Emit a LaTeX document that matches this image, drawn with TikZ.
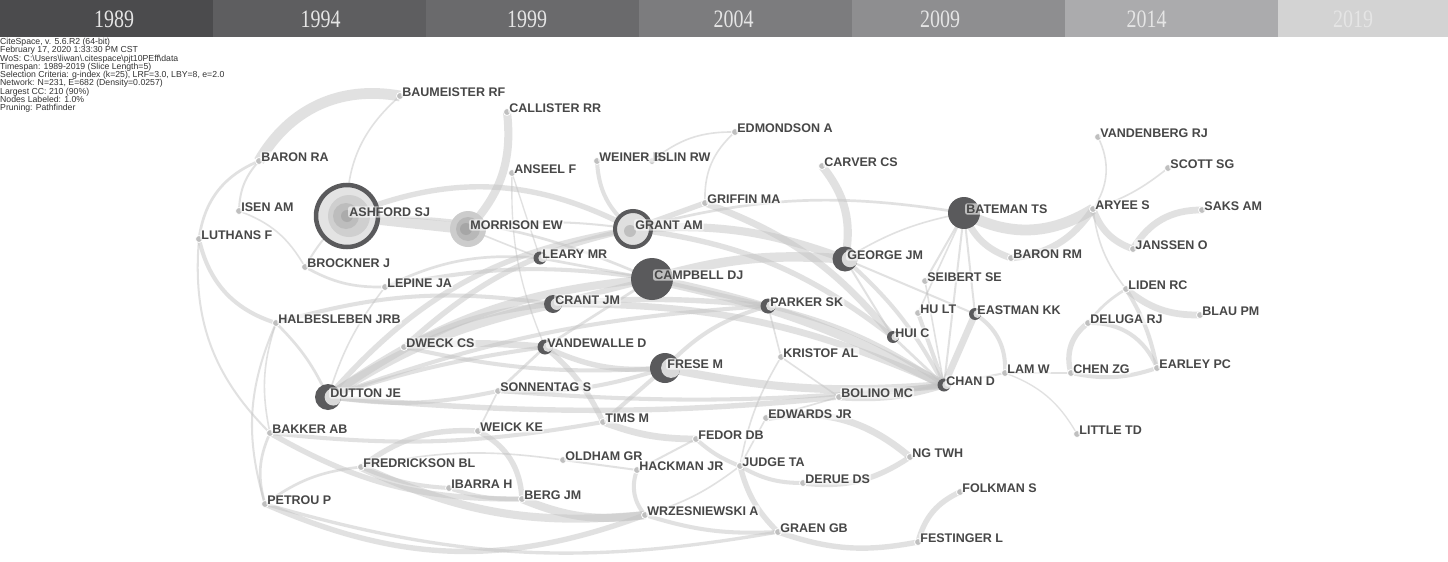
\documentclass[tikz,border=0pt]{standalone}
\usepackage{fontspec}
\usepackage{graphicx}
\setmainfont{Liberation Serif}
\setsansfont{Liberation Sans}
\usetikzlibrary{positioning}
\pgfdeclarelayer{background}
\pgfsetlayers{background,main}
\definecolor{yr1}{HTML}{4B4B4D}
\definecolor{yr2}{HTML}{5E5E60}
\definecolor{yr3}{HTML}{6A6A6C}
\definecolor{yr4}{HTML}{7C7C7E}
\definecolor{yr5}{HTML}{8E8E90}
\definecolor{yr6}{HTML}{ABABAD}
\definecolor{yr7}{HTML}{D3D3D3}
\definecolor{hubc}{HTML}{5A5A5C}
\tikzset{
  dot/.style={circle, fill=gray!50, draw=white, line width=.8pt, inner sep=0pt, minimum size=7pt},
  hub/.style={circle, fill=hubc, inner sep=0pt, minimum size=#1pt,
    path picture={\fill[gray!30] ([xshift={.2*#1*1pt}]path picture bounding box.center) circle ({.33*#1*1pt});}},
  au/.style={anchor=west, font=\sffamily\bfseries\fontsize{12.5}{13}\selectfont, text=black!72,
    fill=white, fill opacity=.6, text opacity=1, inner sep=1.2pt, rounded corners=2pt},
  tie/.style={draw=black!24, line width={1.35*#1}, opacity=.48},
  tie/.default=1.2,
  slab/.style={anchor=north west, minimum width=213pt, minimum height=37pt, inner sep=0pt},
  yrtxt/.style={font=\fontsize{25}{25}\selectfont, text=white!90!black}
}

\begin{document}
\begin{tikzpicture}[x=1pt, y=-1pt]
\useasboundingbox (0,0) rectangle (1448,562);
\clip (0,0) rectangle (1448,562);

% time zones
\foreach \yr [count=\i] in {1989,1994,...,2019} {
  \node[slab, fill=yr\i] (slab\i) at ({213*(\i-1)},0) {};
  \node[yrtxt] (yt\i) at ({114+206.5*(\i-1)},19) {\scalebox{.8}[1]{\yr}};
}
\node[anchor=north west, align=left, inner sep=0pt, text=black!80,
  font=\sffamily\fontsize{8.7}{8.25}\selectfont] (info) at (0,38)
  {CiteSpace, v. 5.6.R2 (64-bit)\\
   February 17, 2020 1:33:30 PM CST\\
   WoS: C:\textbackslash Users\textbackslash liwan\textbackslash .citespace\textbackslash pjt10PEff\textbackslash data\\
   Timespan: 1989-2019 (Slice Length=5)\\
   Selection Criteria: g-index (k=25), LRF=3.0, LBY=8, e=2.0\\
   Network: N=231, E=682 (Density=0.0257)\\
   Largest CC: 210 (90\%)\\
   Nodes Labeled: 1.0\%\\
   Pruning: Pathfinder};

% big nodes
\node[circle, draw=hubc, line width=4.5pt, fill=gray!22, minimum size=62pt, inner sep=0pt,
  path picture={
    \fill[gray!38] ([xshift=2pt]path picture bounding box.center) circle (21pt);
    \fill[gray!52] ([xshift=-1pt]path picture bounding box.center) circle (13pt);
    \fill[gray!66] (path picture bounding box.center) circle (6pt);}] (ash) at (347,216) {};
\node[circle, fill=gray!40, minimum size=36pt, inner sep=0pt,
  path picture={
    \fill[gray!56] (path picture bounding box.center) circle (12pt);
    \fill[gray!70] ([xshift=-2pt]path picture bounding box.center) circle (6pt);}] (mor) at (468,229) {};
\node[circle, draw=hubc, line width=4pt, fill=gray!25, minimum size=36pt, inner sep=0pt,
  path picture={\fill[gray!50] ([xshift=-3pt,yshift=-2pt]path picture bounding box.center) circle (6pt);}] (gra) at (633,229) {};
\node[circle, fill=hubc, minimum size=42pt, inner sep=0pt] (cam) at (652,279) {};
\node[circle, fill=hubc, minimum size=32pt, inner sep=0pt] (bat) at (964,213) {};
\foreach \nm/\x/\y/\s in {geo/845/259/25, par/768/306/15, fre/665/368/30, dut/328/397/26,
  cra/553/304/18, vdw/545/347/15, lea/540/258/13, hui/893/337/12, eas/975/314/12, cha/944/385/13}
  \node[hub=\s] (\nm) at (\x,\y) {};

% small nodes
\foreach \nm/\x/\y in {bau/400/96, cal/507/112, bra/259/161, ise/239/211, lut/199/239,
  bro/305/267, lep/385/287, hal/276/323, ans/512/173, wei/597/161, isl/652/161,
  edm/735/132, gri/705/203, car/822/166, sei/925/281, brm/1011/258, hul/918/313,
  ary/1093/209, van/1098/137, sco/1168/168, sak/1202/210, jan/1133/249, lid/1126/289,
  bla/1200/315, del/1088/323, ear/1157/368, che/1071/373, lam/1005/373, lit/1077/434,
  dwe/404/347, kri/781/357, bol/839/397, son/498/391, bak/270/433, wek/478/431,
  tim/603/422, edw/766/418, fed/696/439, frd/361/467, old/563/460, hac/637/470,
  jud/740/466, ngt/910/457, der/803/483, iba/449/488, ber/522/499, pet/265/504,
  fol/960/492, wrz/645/515, grb/778/532, fes/918/542}
  \node[dot] (\nm) at (\x,\y) {};

% labels
\foreach \nm/\txt in {ash/ASHFORD SJ, mor/MORRISON EW, gra/GRANT AM, cam/CAMPBELL DJ,
  bat/BATEMAN TS, geo/GEORGE JM, par/PARKER SK, fre/FRESE M, dut/DUTTON JE, cra/CRANT JM,
  vdw/VANDEWALLE D, lea/LEARY MR, hui/HUI C, eas/EASTMAN KK, cha/CHAN D,
  bau/BAUMEISTER RF, cal/CALLISTER RR, bra/BARON RA, ise/ISEN AM, lut/LUTHANS F,
  bro/BROCKNER J, lep/LEPINE JA, hal/HALBESLEBEN JRB, ans/ANSEEL F, wei/WEINER B,
  isl/ISLIN RW, edm/EDMONDSON A, gri/GRIFFIN MA, car/CARVER CS, sei/SEIBERT SE,
  brm/BARON RM, hul/HU LT, ary/ARYEE S, van/VANDENBERG RJ, sco/SCOTT SG, sak/SAKS AM,
  jan/JANSSEN O, lid/LIDEN RC, bla/BLAU PM, del/DELUGA RJ, ear/EARLEY PC, che/CHEN ZG,
  lam/LAM W, lit/LITTLE TD, dwe/DWECK CS, kri/KRISTOF AL, bol/BOLINO MC, son/SONNENTAG S,
  bak/BAKKER AB, wek/WEICK KE, tim/TIMS M, edw/EDWARDS JR, fed/FEDOR DB,
  frd/FREDRICKSON BL, old/OLDHAM GR, hac/HACKMAN JR, jud/JUDGE TA, ngt/NG TWH,
  der/DERUE DS, iba/IBARRA H, ber/BERG JM, pet/PETROU P, fol/FOLKMAN S,
  wrz/WRZESNIEWSKI A, grb/GRAEN GB, fes/FESTINGER L}
  \node[au] (\nm-l) at ([xshift=1pt,yshift=4pt]\nm.center) {\txt};

\begin{pgfonlayer}{background}
\fill[white] (0,37) rectangle (1448,562);
% left cluster
\draw[tie=8] (bra.center) to[bend left=35] (bau.center);
\draw[tie=1.2] (bau.center) to[bend right=25] (ash.center);
\draw[tie=1.5] (bra.center) to[bend right=20] (ise.center);
\draw[tie=2] (bra.center) to[bend right=30] (lut.center);
\draw[tie=1.2] (ise.center) to[bend left=20] (bro.center);
\draw[tie=3] (lut.center) to[bend right=30] (hal.center);
\draw[tie=1.5] (lut.center) to[bend right=25] (bak.center);
\draw[tie=2] (bro.center) to[bend right=15] (lep.center);
\draw[tie=1.5] (ash.center) to[bend right=10] (bro.center);
\draw[tie=6] (cal.center) to[bend left=25] (mor.center);
\draw[tie=8] (ash.center) -- (mor.center);
\draw[tie=4] (ash.center) to[bend left=25] (gra.center);
\draw[tie=2] (ash.center) to[bend left=12] (cam.center);
\draw[tie=1.5] (mor.center) to[bend left=8] (gra.center);
\draw[tie=1.2] (mor.center) -- (lea.center);
\draw[tie=2] (lep.center) to[bend left=15] (lea.center);
\draw[tie=3] (lep.center) to[bend left=10] (cam.center);
\draw[tie=1.2] (lep.center) to[bend right=10] (dut.center);
\draw[tie=2] (hal.center) to[bend left=10] (dut.center);
\draw[tie=3] (hal.center) to[bend left=12] (cra.center);
\draw[tie=1.2] (hal.center) to[bend right=15] (bak.center);
\draw[tie=1.5] (hal.center) to[bend right=20] (pet.center);
\draw[tie=2] (bak.center) to[bend right=20] (pet.center);
\draw[tie=4] (pet.center) to[bend right=22] (wrz.center);
\draw[tie=2.5] (pet.center) to[bend right=13] (grb.center);
\draw[tie=2] (pet.center) to[bend left=15] (frd.center);
\draw[tie=4] (bak.center) to[bend right=15] (ber.center);
\draw[tie=3] (bak.center) to[bend right=8] (tim.center);
% centre
\draw[tie=7] (dut.center) to[bend left=10] (cra.center);
\draw[tie=6] (dut.center) to[bend left=15] (cam.center);
\draw[tie=4] (dut.center) to[bend left=20] (gra.center);
\draw[tie=3] (dut.center) to[bend left=5] (vdw.center);
\draw[tie=3] (dut.center) to[bend right=10] (son.center);
\draw[tie=4] (dut.center) to[bend right=6] (cha.center);
\draw[tie=3] (dut.center) to[bend left=8] (par.center);
\draw[tie=5] (dwe.center) to[bend left=5] (vdw.center);
\draw[tie=4] (dwe.center) to[bend left=10] (cra.center);
\draw[tie=4] (dwe.center) to[bend left=15] (gra.center);
\draw[tie=3] (dwe.center) to[bend right=8] (fre.center);
\draw[tie=4] (vdw.center) to[bend right=15] (fre.center);
\draw[tie=2] (vdw.center) -- (cam.center);
\draw[tie=2] (vdw.center) -- (son.center);
\draw[tie=4] (vdw.center) to[bend left=12] (tim.center);
\draw[tie=3] (son.center) to[bend right=10] (fre.center);
\draw[tie=3] (son.center) to[bend right=5] (cha.center);
\draw[tie=1.2] (son.center) -- (wek.center);
\draw[tie=4] (wek.center) to[bend right=20] (frd.center);
\draw[tie=3] (frd.center) to[bend right=10] (iba.center);
\draw[tie=6] (frd.center) to[bend right=15] (wrz.center);
\draw[tie=3] (iba.center) to[bend right=10] (ber.center);
\draw[tie=6] (ber.center) to[bend right=15] (wrz.center);
\draw[tie=4] (wek.center) to[bend left=30] (ber.center);
\draw[tie=1.5] (old.center) -- (hac.center);
\draw[tie=1.2] (old.center) to[bend right=10] (frd.center);
\draw[tie=5] (tim.center) to[bend right=10] (fed.center);
\draw[tie=3] (tim.center) -- (fre.center);
\draw[tie=1.5] (fed.center) -- (hac.center);
\draw[tie=3] (fed.center) to[bend right=10] (jud.center);
\draw[tie=3] (jud.center) to[bend right=15] (der.center);
\draw[tie=1.2] (jud.center) to[bend left=10] (wrz.center);
\draw[tie=4] (jud.center) to[bend right=15] (grb.center);
\draw[tie=3] (hac.center) to[bend right=30] (wrz.center);
\draw[tie=5] (edw.center) to[bend left=25] (ngt.center);
\draw[tie=4] (ngt.center) to[bend left=20] (der.center);
\draw[tie=1.2] (edw.center) -- (bol.center);
\draw[tie=1.2] (edw.center) -- (jud.center);
\draw[tie=1.2] (kri.center) -- (bol.center);
\draw[tie=1.2] (kri.center) to[bend right=10] (jud.center);
\draw[tie=5] (bol.center) to[bend right=10] (cha.center);
\draw[tie=6] (fre.center) to[bend right=8] (cha.center);
\draw[tie=7] (cam.center) to[bend left=8] (cha.center);
\draw[tie=7] (cam.center) to[bend left=10] (geo.center);
\draw[tie=6] (gra.center) to[bend left=12] (geo.center);
\draw[tie=4] (gra.center) to[bend left=15] (hui.center);
\draw[tie=2] (gra.center) to[bend left=12] (bat.center);
\draw[tie=5] (gri.center) to[bend left=15] (hui.center);
\draw[tie=4] (gri.center) -- (gra.center);
\draw[tie=1.2] (edm.center) to[bend right=25] (gri.center);
\draw[tie=1.2] (isl.center) to[bend left=20] (edm.center);
\draw[tie=3] (wei.center) to[bend right=25] (gra.center);
\draw[tie=1] (ans.center) to[bend right=12] (vdw.center);
\draw[tie=1] (ans.center) -- (lea.center);
\draw[tie=6] (car.center) to[bend left=25] (geo.center);
\draw[tie=3] (geo.center) to[bend left=10] (cha.center);
\draw[tie=1.5] (geo.center) -- (eas.center);
\draw[tie=1.5] (geo.center) -- (hui.center);
\draw[tie=3] (par.center) to[bend left=10] (cha.center);
\draw[tie=3] (par.center) to[bend right=15] (fre.center);
\draw[tie=1.2] (par.center) -- (kri.center);
\draw[tie=3] (par.center) -- (cam.center);
\draw[tie=4] (cra.center) -- (cam.center);
\draw[tie=5] (cra.center) to[bend left=12] (cha.center);
\draw[tie=4] (cra.center) to[bend left=5] (par.center);
\draw[tie=2] (lea.center) -- (cam.center);
% right cluster
\draw[tie=8] (bat.center) to[bend right=30] (ary.center);
\draw[tie=5] (bat.center) to[bend right=25] (brm.center);
\draw[tie=5] (ary.center) to[bend left=25] (brm.center);
\draw[tie=1.5] (bat.center) -- (eas.center);
\draw[tie=1.5] (bat.center) -- (sei.center);
\draw[tie=1.2] (bat.center) -- (hul.center);
\draw[tie=1.2] (bat.center) to[bend right=10] (geo.center);
\draw[tie=1.5] (bat.center) -- (cha.center);
\draw[tie=1.2] (ary.center) to[bend right=30] (van.center);
\draw[tie=1.2] (ary.center) to[bend right=10] (sco.center);
\draw[tie=5] (ary.center) to[bend right=25] (jan.center);
\draw[tie=5] (sak.center) to[bend right=30] (jan.center);
\draw[tie=1.2] (ary.center) to[bend right=15] (lid.center);
\draw[tie=5] (lid.center) to[bend right=20] (bla.center);
\draw[tie=3] (lid.center) to[bend left=10] (ear.center);
\draw[tie=2] (lid.center) to[bend right=10] (del.center);
\draw[tie=4] (del.center) to[bend right=35] (che.center);
\draw[tie=3] (del.center) to[bend left=35] (ear.center);
\draw[tie=3] (che.center) to[bend right=15] (ear.center);
\draw[tie=1] (che.center) -- (lam.center);
\draw[tie=1.5] (lam.center) -- (cha.center);
\draw[tie=1] (lam.center) to[bend left=20] (lit.center);
\draw[tie=5] (eas.center) -- (cha.center);
\draw[tie=3] (eas.center) to[bend left=30] (lam.center);
\draw[tie=3] (hul.center) -- (cha.center);
\draw[tie=1.2] (sei.center) -- (cha.center);
\draw[tie=2] (hui.center) -- (cha.center);
\draw[tie=4] (fol.center) to[bend right=25] (fes.center);
\draw[tie=4] (grb.center) to[bend right=15] (fes.center);
\draw[tie=3] (wrz.center) to[bend right=10] (grb.center);
\end{pgfonlayer}
\end{tikzpicture}
\end{document}
